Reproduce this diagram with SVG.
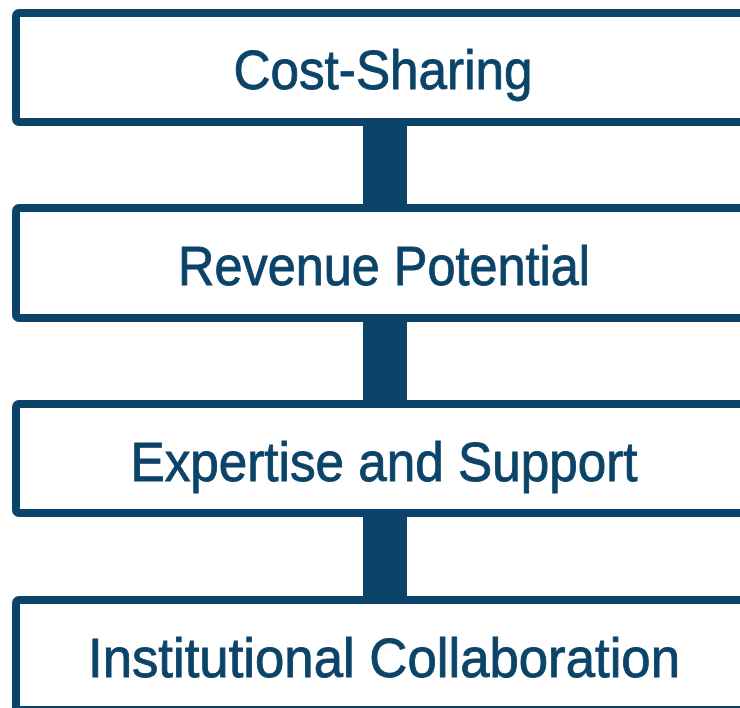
<svg xmlns="http://www.w3.org/2000/svg" width="740" height="708" viewBox="0 0 740 708">
<style>
.box{fill:#ffffff;stroke:#0b4468;stroke-width:8}
.lbl{font-family:"Liberation Sans",Arial,sans-serif;font-size:56px;fill:#0b4468;stroke:#0b4468;stroke-width:0.9;text-anchor:middle}
.conn{fill:#0b4468}
</style>
<rect width="740" height="708" fill="#ffffff"/>
<g id="connectors">
<rect class="conn" x="363" y="122" width="44" height="86"/>
<rect class="conn" x="363" y="318" width="44" height="86"/>
<rect class="conn" x="363" y="513" width="44" height="87"/>
</g>
<g id="node1">
<rect class="box" x="16" y="13" width="740" height="109" rx="3"/>
<text class="lbl" x="383" y="89" textLength="299" lengthAdjust="spacingAndGlyphs">Cost-Sharing</text>
</g>
<g id="node2">
<rect class="box" x="16" y="208" width="740" height="110" rx="3"/>
<text class="lbl" x="384" y="285" textLength="412" lengthAdjust="spacingAndGlyphs">Revenue Potential</text>
</g>
<g id="node3">
<rect class="box" x="16" y="404" width="740" height="109" rx="3"/>
<text class="lbl" x="384" y="481" textLength="507" lengthAdjust="spacingAndGlyphs">Expertise and Support</text>
</g>
<g id="node4">
<rect class="box" x="16" y="600" width="740" height="110" rx="3"/>
<text class="lbl" x="384" y="677" textLength="592" lengthAdjust="spacingAndGlyphs">Institutional Collaboration</text>
</g>
</svg>
